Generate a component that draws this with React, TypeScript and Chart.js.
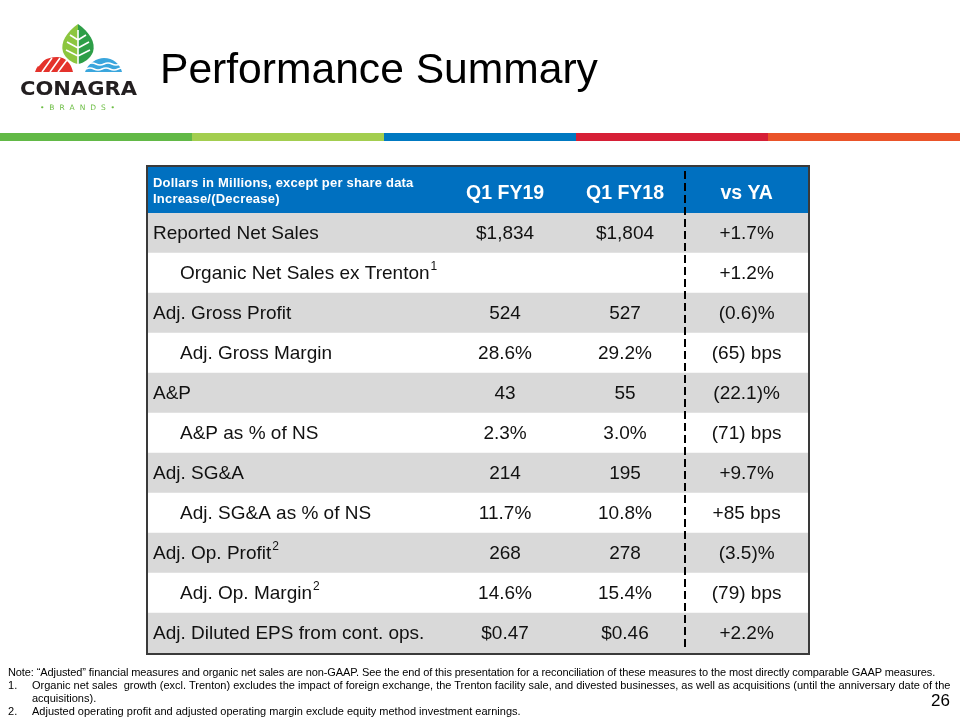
import React, { useEffect, useRef } from "react";
import { Chart, registerables } from "chart.js";

Chart.register(...registerables);

// ---- data ----
const rowLabels = [
  "Reported Net Sales",
  "Organic Net Sales ex Trenton",
  "Adj. Gross Profit",
  "Adj. Gross Margin",
  "A&P",
  "A&P as % of NS",
  "Adj. SG&A",
  "Adj. SG&A as % of NS",
  "Adj. Op. Profit",
  "Adj. Op. Margin",
  "Adj. Diluted EPS from cont. ops.",
];
const rowFootnoteMarks = ["", "1", "", "", "", "", "", "", "2", "2", ""];
const rowIsSubItem = [false, true, false, true, false, true, false, true, false, true, false];
const q1FY19Values = ["$1,834", "", "524", "28.6%", "43", "2.3%", "214", "11.7%", "268", "14.6%", "$0.47"];
const q1FY18Values = ["$1,804", "", "527", "29.2%", "55", "3.0%", "195", "10.8%", "278", "15.4%", "$0.46"];
const vsYAValues = ["+1.7%", "+1.2%", "(0.6)%", "(65) bps", "(22.1)%", "(71) bps", "+9.7%", "+85 bps", "(3.5)%", "(79) bps", "+2.2%"];
const columnHeaders = ["Q1 FY19", "Q1 FY18", "vs YA"];
const headerCaption = ["Dollars in Millions, except per share data", "Increase/(Decrease)"];
const stripeColors = ["#62B946", "#A3CE4F", "#0079C1", "#D61F36", "#EA5329"];
const footnoteNote =
  "Note: \u201CAdjusted\u201D financial measures and organic net sales are non-GAAP. See the end of this presentation for a reconciliation of these measures to the most directly comparable GAAP measures.";
const footnoteItems = [
  [
    "Organic net sales  growth (excl. Trenton) excludes the impact of foreign exchange, the Trenton facility sale, and divested businesses, as well as acquisitions (until the anniversary date of the",
    "acquisitions).",
  ],
  ["Adjusted operating profit and adjusted operating margin exclude equity method investment earnings."],
];
const pageNumber = "26";
const titleText = "Performance Summary";

// ---- layout (x-scale units, 0..1 across the table) ----
const COL_CENTERS = [0.541, 0.7227, 0.907];
const DIVIDER_X = 0.8136;
const FONT = "'Liberation Sans', Arial, Helvetica, sans-serif";

const tablePlugin = {
  id: "tableText",
  afterDatasetsDraw(chart: any) {
    const { ctx, chartArea, scales } = chart;
    const xs = scales.x;
    const ys = scales.y;
    const left = chartArea.left;
    const right = chartArea.right;
    const top = chartArea.top;
    const bottom = chartArea.bottom;
    const headerH = 46;
    const headerTop = top - headerH;
    ctx.save();

    // header band
    ctx.fillStyle = "#0070C0";
    ctx.fillRect(left, headerTop, right - left, headerH);
    ctx.fillStyle = "#ffffff";
    ctx.textBaseline = "middle";
    ctx.textAlign = "left";
    ctx.font = `bold 13px ${FONT}`;
    try {
      ctx.letterSpacing = "0.2px";
    } catch (e) {}
    ctx.fillText(headerCaption[0], left + 5, headerTop + 16);
    ctx.fillText(headerCaption[1], left + 5, headerTop + 32);
    try {
      ctx.letterSpacing = "0px";
    } catch (e) {}
    ctx.font = `bold 19.5px ${FONT}`;
    ctx.textAlign = "center";
    columnHeaders.forEach((h, i) => {
      ctx.fillText(h, xs.getPixelForValue(COL_CENTERS[i]), headerTop + 27);
    });

    // rows
    ctx.fillStyle = "#111111";
    rowLabels.forEach((label, i) => {
      const cy = ys.getPixelForValue(i) + 1;
      const lx = xs.getPixelForValue(0) + (rowIsSubItem[i] ? 32 : 5);
      ctx.font = `19px ${FONT}`;
      ctx.textAlign = "left";
      ctx.fillText(label, lx, cy);
      if (rowFootnoteMarks[i]) {
        const w = ctx.measureText(label).width;
        ctx.font = `12px ${FONT}`;
        ctx.fillText(rowFootnoteMarks[i], lx + w + 1, cy - 7);
      }
      ctx.font = `19px ${FONT}`;
      ctx.textAlign = "center";
      const vals = [q1FY19Values[i], q1FY18Values[i], vsYAValues[i]];
      vals.forEach((v, j) => {
        if (v) ctx.fillText(v, xs.getPixelForValue(COL_CENTERS[j]), cy);
      });
    });

    // dashed divider
    const dx = Math.round(xs.getPixelForValue(DIVIDER_X));
    ctx.strokeStyle = "#000000";
    ctx.lineWidth = 2;
    ctx.setLineDash([8, 4]);
    ctx.beginPath();
    ctx.moveTo(dx, headerTop + 4);
    ctx.lineTo(dx, bottom - 2);
    ctx.stroke();
    ctx.setLineDash([]);

    // outer border
    ctx.strokeStyle = "#3a3a3a";
    ctx.lineWidth = 2;
    ctx.strokeRect(left - 1, headerTop - 1, right - left + 2, bottom - headerTop + 2);
    ctx.restore();
  },
};

function Logo() {
  return (
    <svg width={160} height={125} style={{ position: "absolute", left: 0, top: 0 }}>
      {/* leaf */}
      <path d="M78,24 C67,32 60,42 63,52 C66,59 72,63 78,64 Z" fill="#8CC63F" />
      <path d="M78,24 C89,32 96,42 93,52 C90,59 84,63 78,64 Z" fill="#2E9E48" />
      <path d="M78,30 L78,64 M78,40 L70,35 M78,48 L67,42 M78,56 L66,50 M78,40 L86,35 M78,48 L89,42 M78,56 L90,50" stroke="#ffffff" strokeWidth={1.6} fill="none" />
      {/* red hills */}
      <path d="M35,72 C38,62 47,57 57,57 C65,57 71,63 73,72 Z" fill="#E4322B" />
      <path d="M42,72 L52,58 M50,72 L60,58 M58,72 L67,60 M38,66 L45,58" stroke="#ffffff" strokeWidth={1.6} />
      {/* blue waves */}
      <path d="M85,72 C88,63 97,58 104,58 C113,58 120,64 122,72 Z" fill="#3AA6DD" />
      <path d="M88,64 q4,-2 8,0 t8,0 t8,0 t8,0 M86,69 q4,-2 8,0 t8,0 t8,0 t8,0 t8,0" stroke="#ffffff" strokeWidth={1.4} fill="none" />
      <text x={20} y={95} fontFamily="'DejaVu Sans', Arial, sans-serif" fontWeight="bold" fontSize={20} textLength={117} lengthAdjust="spacingAndGlyphs" fill="#231F20">
        CONAGRA
      </text>
      <text x={40} y={110} fontFamily="'DejaVu Sans', Arial, sans-serif" fontSize={7.5} textLength={75} lengthAdjust="spacing" fill="#6DBE45">
        • B R A N D S •
      </text>
    </svg>
  );
}

export default function App() {
  const canvasRef = useRef<HTMLCanvasElement | null>(null);

  useEffect(() => {
    if (!canvasRef.current) return;
    const chart = new Chart(canvasRef.current, {
      type: "bar",
      data: {
        labels: rowLabels,
        datasets: [
          {
            data: rowLabels.map(() => [0, 1]) as any,
            backgroundColor: rowLabels.map((_, i) => (i % 2 === 0 ? "#D9D9D9" : "#FFFFFF")),
            borderWidth: 0,
            barPercentage: 1,
            categoryPercentage: 1,
          },
        ],
      },
      options: {
        indexAxis: "y",
        responsive: false,
        animation: false,
        layout: { padding: { left: 148, right: 152, top: 213, bottom: 67 } },
        scales: {
          x: { type: "linear", min: 0, max: 1, display: false },
          y: { type: "category", display: false, offset: true },
        },
        plugins: {
          legend: { display: false },
          tooltip: { enabled: false },
        },
      },
      plugins: [tablePlugin],
    });
    return () => chart.destroy();
  }, []);

  return (
    <div style={{ position: "fixed", left: 0, top: 0, width: 960, height: 720, background: "#ffffff", overflow: "hidden" }}>
      <canvas ref={canvasRef} width={960} height={720} style={{ position: "absolute", left: 0, top: 0 }} />
      <Logo />
      <div
        style={{
          position: "absolute",
          left: 160,
          top: 47,
          fontFamily: FONT,
          fontSize: 42.6,
          lineHeight: "42px",
          color: "#000",
          whiteSpace: "nowrap",
        }}
      >
        {titleText}
      </div>
      {stripeColors.map((c, i) => (
        <div key={i} style={{ position: "absolute", left: i * 192, top: 133, width: 192, height: 8, background: c }} />
      ))}
      <div
        style={{
          position: "absolute",
          left: 8,
          top: 666,
          width: 945,
          fontFamily: FONT,
          fontSize: 11,
          lineHeight: "13px",
          color: "#000",
        }}
      >
        <div style={{ whiteSpace: "nowrap", letterSpacing: "-0.1px" }}>{footnoteNote}</div>
        {footnoteItems.map((lines, i) => (
          <div key={i} style={{ position: "relative", paddingLeft: 24 }}>
            <span style={{ position: "absolute", left: 0 }}>{i + 1}.</span>
            {lines.map((l, j) => (
              <div key={j} style={{ whiteSpace: "pre" }}>
                {l}
              </div>
            ))}
          </div>
        ))}
      </div>
      <div
        style={{
          position: "absolute",
          left: 931,
          top: 692,
          fontFamily: FONT,
          fontSize: 17,
          lineHeight: "17px",
          color: "#000",
        }}
      >
        {pageNumber}
      </div>
    </div>
  );
}
